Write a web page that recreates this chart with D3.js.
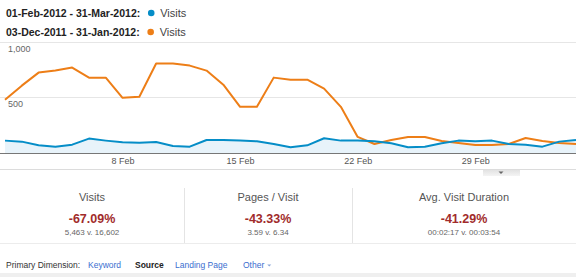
<!DOCTYPE html>
<html>
<head>
<meta charset="utf-8">
<script src="https://cdn.jsdelivr.net/npm/d3@7"></script>
<style>
  html, body { margin: 0; padding: 0; background: #fff; }
  svg { display: block; font-family: Arial, "Liberation Sans", sans-serif; }
</style>
</head>
<body>
<svg id="chart" width="576" height="277"></svg>
<script>
// days from 01-Feb-2012, one point per day
const startDate = new Date(2012, 1, 1);
const visitsCurrent = [111, 102, 69, 57, 75, 129, 111, 96, 93, 99, 63, 57, 117, 117, 111, 105, 81, 51,
  69, 132, 111, 111, 105, 87, 51, 57, 87, 111, 105, 111, 81, 75, 57, 102, 117];
const visitsPrevious = [477, 604, 721, 739, 766, 676, 676, 495, 505, 802, 802, 784, 739, 613, 414, 414, 676, 658,
  658, 577, 414, 144, 81, 117, 144, 144, 108, 90, 72, 72, 81, 135, 108, 90, 81];
const yTicks = [500, 1000];
const xTickDays = [7, 14, 21, 28];

const legendRows = [
  { label: "01-Feb-2012 - 31-Mar-2012:", color: "#058dc7", name: "Visits" },
  { label: "03-Dec-2011 - 31-Jan-2012:", color: "#ed7e17", name: "Visits" }
];
const metricNames = ["Visits", "Pages / Visit", "Avg. Visit Duration"];
const metricChanges = ["-67.09%", "-43.33%", "-41.29%"];
const metricCompares = ["5,463 v. 16,602", "3.59 v. 6.34", "00:02:17 v. 00:03:54"];
const dimLinks = ["Keyword", "Source", "Landing Page", "Other"];

const svg = d3.select("#chart");
const W = 576;

// legend
legendRows.forEach((r, i) => {
  const y = 17 + i * 19;
  const t = svg.append("text")
    .attr("x", 6).attr("y", y)
    .attr("font-size", "10.5px").attr("font-weight", "bold").attr("fill", "#222")
    .text(r.label);
  const end = 6 + t.node().getComputedTextLength();
  svg.append("circle").attr("cx", end + 11).attr("cy", y - 4).attr("r", 3.3).attr("fill", r.color);
  svg.append("text").attr("x", end + 20).attr("y", y)
    .attr("font-size", "11px").attr("fill", "#444").text(r.name);
});

// scales
const dates = visitsCurrent.map((d, i) => d3.timeDay.offset(startDate, i));
const x = d3.scaleTime()
  .domain([dates[0], dates[dates.length - 1]])
  .range([5, 576]);
const y = d3.scaleLinear().domain([0, 1000]).range([153, 41.5]);

// gridlines
svg.append("g").selectAll("line").data(yTicks).join("line")
  .attr("x1", 0).attr("x2", W)
  .attr("y1", d => Math.round(y(d)) + 0.5).attr("y2", d => Math.round(y(d)) + 0.5)
  .attr("stroke", "#e6e6e6");
svg.append("g").selectAll("text").data(yTicks).join("text")
  .attr("x", 8).attr("y", d => y(d) + 10)
  .attr("font-size", "9px").attr("fill", "#666")
  .text(d => d3.format(",")(d));

// area + lines
const area = d3.area()
  .x((d, i) => x(dates[i]))
  .y0(y(0))
  .y1(d => y(d));
const line = d3.line()
  .x((d, i) => x(dates[i]))
  .y(d => y(d));

svg.append("path").datum(visitsCurrent)
  .attr("d", area).attr("fill", "#e8f3fa");
svg.append("path").datum(visitsPrevious)
  .attr("d", line).attr("fill", "none")
  .attr("stroke", "#ed7e17").attr("stroke-width", 2).attr("stroke-linejoin", "round");
svg.append("path").datum(visitsCurrent)
  .attr("d", line).attr("fill", "none")
  .attr("stroke", "#058dc7").attr("stroke-width", 2).attr("stroke-linejoin", "round");

// baseline + x axis
svg.append("line").attr("x1", 0).attr("x2", W).attr("y1", 153.5).attr("y2", 153.5)
  .attr("stroke", "#777");
const xAxis = svg.append("g")
  .attr("transform", "translate(0,153)")
  .call(d3.axisBottom(x)
    .tickValues(xTickDays.map(i => dates[i]))
    .tickFormat(d3.timeFormat("%-d %b"))
    .tickSize(0).tickPadding(5));
xAxis.select(".domain").remove();
xAxis.selectAll("text").attr("font-size", "9px").attr("fill", "#555")
  .attr("font-family", "Arial, 'Liberation Sans', sans-serif");

svg.append("line").attr("x1", 0).attr("x2", W).attr("y1", 169.5).attr("y2", 169.5)
  .attr("stroke", "#dcdcdc");

// little dropdown tab
const grad = svg.append("defs").append("linearGradient")
  .attr("id", "tab").attr("x1", 0).attr("x2", 0).attr("y1", 0).attr("y2", 1);
grad.append("stop").attr("offset", "0%").attr("stop-color", "#e2e2e2");
grad.append("stop").attr("offset", "100%").attr("stop-color", "#f4f4f4");
svg.append("rect").attr("x", 483).attr("y", 170).attr("width", 37).attr("height", 6)
  .attr("fill", "url(#tab)");
svg.append("path").attr("d", "M498.5,171.5 L503.5,171.5 L501,174 Z").attr("fill", "#666");

// metric summary
const colEdges = [0, 184, 352, W];
metricNames.forEach((name, i) => {
  const cx = (colEdges[i] + colEdges[i + 1]) / 2;
  svg.append("text").attr("x", cx).attr("y", 201).attr("text-anchor", "middle")
    .attr("font-size", "11px").attr("fill", "#555").text(name);
  svg.append("text").attr("x", cx).attr("y", 222.5).attr("text-anchor", "middle")
    .attr("font-size", "12.5px").attr("font-weight", "bold").attr("fill", "#a12b2b")
    .text(metricChanges[i]);
  svg.append("text").attr("x", cx).attr("y", 235).attr("text-anchor", "middle")
    .attr("font-size", "8px").attr("fill", "#666").text(metricCompares[i]);
});
svg.append("g").selectAll("line").data(colEdges.slice(1, 3)).join("line")
  .attr("x1", d => d + 0.5).attr("x2", d => d + 0.5)
  .attr("y1", 188).attr("y2", 243)
  .attr("stroke", "#e4e4e4");
svg.append("line").attr("x1", 0).attr("x2", W).attr("y1", 243.5).attr("y2", 243.5)
  .attr("stroke", "#ececec");

// primary dimension row
svg.append("text").attr("x", 6).attr("y", 268)
  .attr("font-size", "8.5px").attr("fill", "#333").text("Primary Dimension:");
const linkX = [88, 135, 175, 243];
let otherEnd = 0;
dimLinks.forEach((d, i) => {
  const t = svg.append("text").attr("x", linkX[i]).attr("y", 268)
    .attr("font-size", "8.5px")
    .attr("fill", d === "Source" ? "#222" : "#3a6ecf")
    .attr("font-weight", d === "Source" ? "bold" : "normal")
    .text(d);
  otherEnd = linkX[i] + t.node().getComputedTextLength();
});
svg.append("path")
  .attr("d", `M${otherEnd + 3},264.5 L${otherEnd + 7},264.5 L${otherEnd + 5},266.5 Z`)
  .attr("fill", "#8aa6d8");

svg.append("rect").attr("x", 0).attr("y", 273).attr("width", W).attr("height", 4)
  .attr("fill", "#efefef");
</script>
</body>
</html>
